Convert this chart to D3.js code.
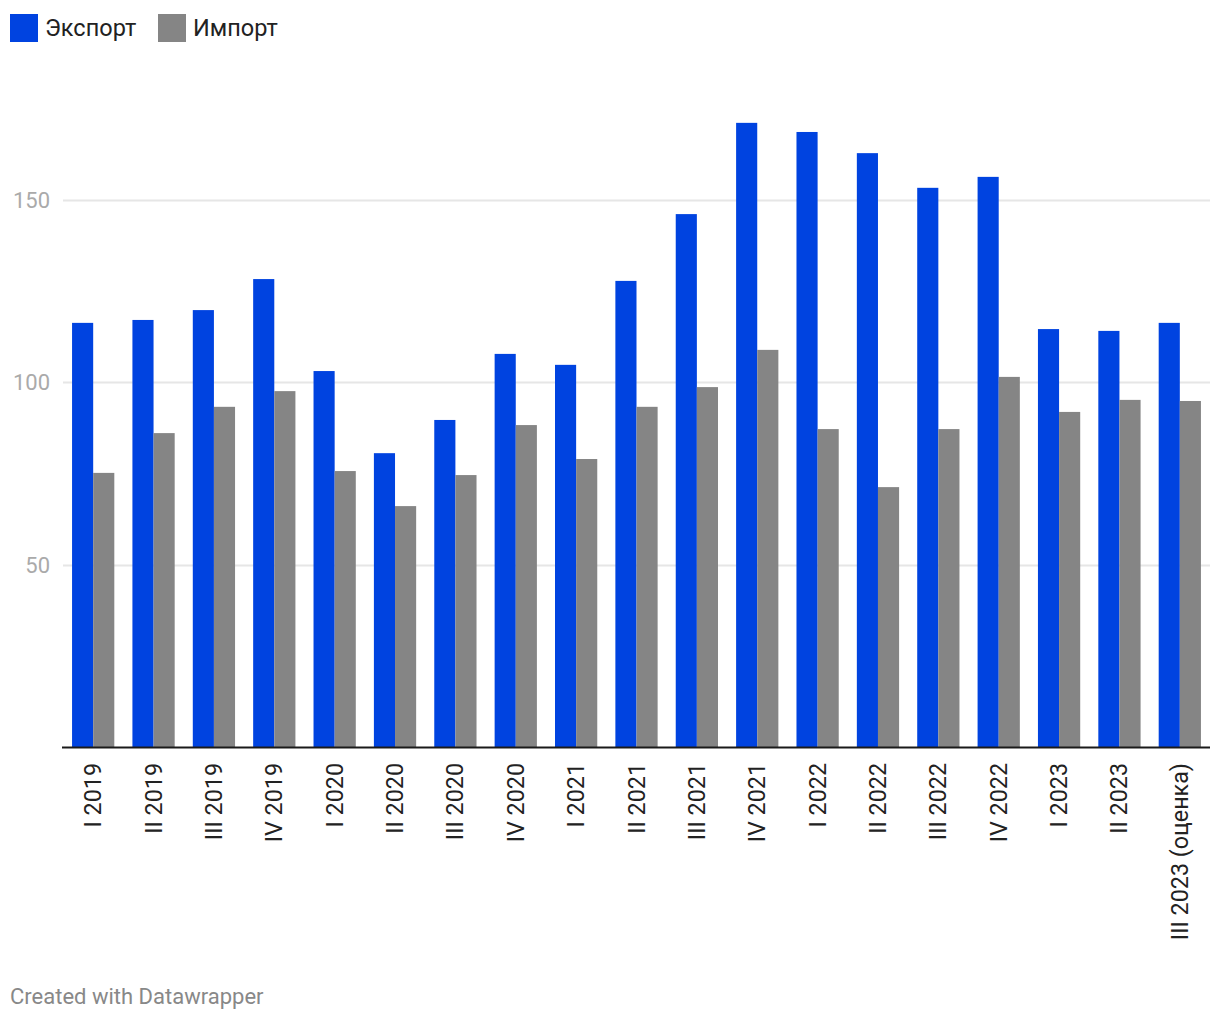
<!DOCTYPE html>
<html><head><meta charset="utf-8">
<script src="https://cdn.jsdelivr.net/npm/d3@7"></script>
<style>body{margin:0;background:#fff;font-family:Roboto,sans-serif;}</style>
</head><body><svg id="c" width="1220" height="1020"></svg>
<script>
const categories = ["I 2019","II 2019","III 2019","IV 2019","I 2020","II 2020","III 2020","IV 2020","I 2021","II 2021","III 2021","IV 2021","I 2022","II 2022","III 2022","IV 2022","I 2023","II 2023","III 2023 (оценка)"];
const exportValues = [116.2,117.0,119.7,128.2,103.0,80.5,89.6,107.7,104.7,127.7,146.0,171.0,168.5,162.7,153.2,156.2,114.5,114.0,116.2];
const importValues = [75.1,86.0,93.2,97.5,75.6,66.0,74.5,88.2,78.9,93.2,98.6,108.8,87.1,71.2,87.1,101.4,91.8,95.1,94.8];
const seriesNames = ["Экспорт","Импорт"];
const yTicks = [50,100,150];
const colors = ["#0043e0","#858585"];

const svg = d3.select("#c");
const mLeft = 63, mRight = 1210, mBottom = 747;
const x = d3.scaleBand().domain(categories).range([mLeft, mRight]).paddingInner(0.3).paddingOuter(0.15);
const xs = d3.scaleBand().domain(seriesNames).range([0, x.bandwidth()]);
const y = d3.scaleLinear().domain([0, 50]).range([mBottom, 564.5]);

// grid
svg.append("g").selectAll("line").data(yTicks).join("line")
  .attr("x1", mLeft).attr("x2", mRight)
  .attr("y1", d => Math.round(y(d)) + 0.5).attr("y2", d => Math.round(y(d)) + 0.5)
  .attr("stroke", "#e6e6e6").attr("stroke-width", 2);
svg.append("g").selectAll("text").data(yTicks).join("text")
  .attr("x", 50).attr("y", d => y(d) + 8).attr("text-anchor", "end")
  .attr("font-size", 22).attr("fill", "#aaaaaa").text(d => d);

// bars
const data = [exportValues, importValues];
data.forEach((vals, si) => {
  svg.append("g").selectAll("rect").data(vals).join("rect")
    .attr("x", (d, i) => x(categories[i]) + xs(seriesNames[si]))
    .attr("width", xs.bandwidth())
    .attr("y", d => y(d)).attr("height", d => mBottom - y(d))
    .attr("fill", colors[si]);
});

// axis line
svg.append("line").attr("x1", 62).attr("x2", mRight).attr("y1", mBottom + 0.5).attr("y2", mBottom + 0.5)
  .attr("stroke", "#1a1a1a").attr("stroke-width", 2);

// x labels
svg.append("g").selectAll("text").data(categories).join("text")
  .attr("transform", d => `translate(${x(d) + x.bandwidth()/2 + 8},763) rotate(-90)`)
  .attr("text-anchor", "end").attr("font-size", 23.3).attr("fill", "#222").text(d => d);

// legend
const leg = [{n: seriesNames[0], c: colors[0], x: 10}, {n: seriesNames[1], c: colors[1], x: 158}];
leg.forEach(l => {
  svg.append("rect").attr("x", l.x).attr("y", 14).attr("width", 28).attr("height", 28).attr("fill", l.c);
  svg.append("text").attr("x", l.x + 35).attr("y", 36).attr("font-size", 23.5).attr("fill", "#222").text(l.n);
});

svg.append("text").attr("x", 10).attr("y", 1004).attr("font-size", 22).attr("fill", "#888").text("Created with Datawrapper");
</script></body></html>
